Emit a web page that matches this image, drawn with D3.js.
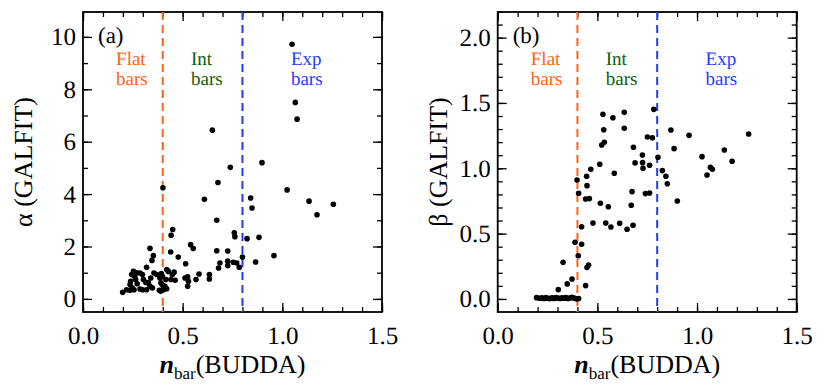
<!DOCTYPE html>
<html>
<head>
<meta charset="utf-8">
<script src="https://cdn.jsdelivr.net/npm/d3@7"></script>
<style>
  body { margin: 0; background: #fff; }
  svg text { text-rendering: geometricPrecision; }
</style>
</head>
<body>
<div id="chart"></div>
<script>
// panel (a): n_bar vs alpha
const nAlpha = [1.049,1.065,1.074,0.649,0.739,0.898,0.677,0.401,0.609,0.841,0.848,1.024,1.134,1.174,1.256,
  0.671,0.759,0.762,0.823,0.883,0.450,0.442,0.540,0.553,0.336,0.353,0.346,0.440,0.478,0.515,
  0.671,0.726,0.800,0.958,0.866,0.726,0.726,0.754,0.771,0.687,0.680,0.784,0.319,0.253,0.244,
  0.286,0.298,0.356,0.370,0.393,0.398,0.420,0.428,0.457,0.448,0.441,0.462,0.340,0.328,0.303,
  0.315,0.264,0.272,0.239,0.236,0.247,0.256,0.236,0.219,0.199,0.286,0.299,0.336,0.348,0.319,
  0.391,0.400,0.383,0.403,0.525,0.529,0.525,0.512,0.567,0.582,0.634,0.634,0.386,0.411,0.420,
  0.416,0.270,0.260,0.390];
const alphaVals = [9.72,7.50,6.86,6.44,5.02,5.20,4.44,4.24,3.80,3.85,3.47,4.16,3.73,3.21,3.61,
  3.00,2.52,2.37,2.30,2.35,2.65,2.43,2.07,1.92,1.93,1.65,1.47,1.79,1.60,1.34,
  1.84,1.83,1.60,1.65,1.41,1.44,1.27,1.40,1.37,1.37,1.18,1.21,1.21,1.05,0.93,
  0.99,0.93,0.99,0.93,0.97,0.86,1.12,1.05,1.02,0.93,0.74,0.71,0.80,0.61,0.74,
  0.63,0.74,0.58,0.67,0.55,0.42,0.35,0.33,0.35,0.25,0.38,0.35,0.48,0.42,0.35,
  0.61,0.52,0.33,0.35,0.84,0.67,0.48,0.80,0.74,0.95,0.93,0.76,0.80,0.48,0.39,
  0.74,1.00,0.85,0.29];

// panel (b): n_bar vs beta
const nBeta = [0.783,0.635,0.528,0.578,0.635,0.532,0.869,0.960,1.259,0.535,0.522,0.751,0.776,0.681,0.885,
  1.137,0.726,0.804,1.025,1.176,0.689,0.727,0.729,0.762,0.512,0.467,0.446,0.585,0.826,0.844,
  0.851,1.067,1.077,1.050,0.901,0.398,0.406,0.448,0.441,0.460,0.515,0.555,0.674,0.670,0.741,
  0.762,0.421,0.478,0.542,0.568,0.612,0.649,0.679,0.388,0.421,0.404,0.328,0.373,0.349,0.304,
  0.441,0.448,0.456,
  0.195,0.210,0.222,0.232,0.242,0.252,0.262,0.272,0.282,0.292,0.302,0.312,0.322,0.332,0.342,
  0.352,0.362,0.372,0.384,0.396,0.406,0.413];
const betaVals = [1.451,1.428,1.413,1.387,1.306,1.295,1.293,1.252,1.262,1.199,1.178,1.239,1.234,1.161,1.150,
  1.140,1.102,1.084,1.089,1.054,1.041,1.043,1.000,1.023,1.031,0.992,0.939,0.962,0.982,0.939,
  0.882,1.008,0.992,0.949,0.750,0.910,0.809,0.867,0.765,0.768,0.732,0.706,0.821,0.717,0.806,
  0.811,0.553,0.581,0.581,0.551,0.579,0.533,0.564,0.434,0.418,0.331,0.281,0.153,0.115,0.071,
  0.102,0.240,0.260,
  0.010,0.005,0.008,0.003,0.010,0.005,0.002,0.008,0.004,0.010,0.006,0.003,0.008,0.005,0.010,
  0.004,0.007,0.012,0.006,0.000,0.003];

const xMajor = [0, 0.5, 1.0, 1.5];
const xMinor = d3.range(0, 1.501, 0.1);
const alphaMajor = [0, 2, 4, 6, 8, 10];
const alphaMinor = d3.range(0, 11, 1);
const betaMajor = [0, 0.5, 1.0, 1.5, 2.0];
const betaMinor = d3.range(0, 2.201, 0.1);

const flatCut = 0.4, expCut = 0.8;
const orange = "#ff6316", green = "#0d5f0d", blue = "#1f3cff";
const serif = '"Liberation Serif", "Times New Roman", Times, serif';

const W = 830, H = 391;
const svg = d3.select("#chart").append("svg")
    .attr("width", W)
    .attr("height", H)
    .style("font-family", serif);

const yTop = 12, yBottom = 312;

function panel(opts) {
    const x = d3.scaleLinear().domain([0, 1.5]).range([opts.left, opts.right]);
    const y = d3.scaleLinear().domain(opts.yDomain).range([yBottom, yTop]);
    const g = svg.append("g");

    function axes(gen, tr, vals, size, fmt, pad) {
        const a = g.append("g")
            .attr("transform", tr)
            .call(gen.tickValues(vals).tickSize(size).tickPadding(pad).tickFormat(fmt));
        a.attr("font-family", null);
        a.select(".domain").remove();
        a.selectAll("line").attr("stroke", "#000").attr("stroke-width", 1.3);
        a.selectAll("text").attr("fill", "#000")
            .style("font-family", serif).style("font-size", "25px");
        return a;
    }
    // bottom / top
    axes(d3.axisBottom(x), `translate(0,${yBottom})`, xMajor, -9, d3.format(".1f"), 14);
    axes(d3.axisBottom(x), `translate(0,${yBottom})`, xMinor, -5, () => "", 14);
    axes(d3.axisTop(x), `translate(0,${yTop})`, xMajor, -9, () => "", 0);
    axes(d3.axisTop(x), `translate(0,${yTop})`, xMinor, -5, () => "", 0);
    // left / right
    axes(d3.axisLeft(y), `translate(${opts.left},0)`, opts.yMajor, -9, opts.yFmt, 7);
    axes(d3.axisLeft(y), `translate(${opts.left},0)`, opts.yMinor, -5, () => "", 7);
    axes(d3.axisRight(y), `translate(${opts.right},0)`, opts.yMajor, -9, () => "", 0);
    axes(d3.axisRight(y), `translate(${opts.right},0)`, opts.yMinor, -5, () => "", 0);

    g.append("rect")
        .attr("x", opts.left).attr("y", yTop)
        .attr("width", opts.right - opts.left).attr("height", yBottom - yTop)
        .attr("fill", "none").attr("stroke", "#000").attr("stroke-width", 1.8);

    // cut lines
    [[flatCut, orange], [expCut, blue]].forEach(([v, c]) => {
        g.append("line")
            .attr("x1", x(v)).attr("x2", x(v))
            .attr("y1", yTop).attr("y2", yBottom)
            .attr("stroke", c).attr("stroke-width", 2)
            .attr("stroke-dasharray", "8,5");
    });

    // points
    g.selectAll("circle.pt")
        .data(d3.zip(opts.xs, opts.ys))
        .join("circle")
        .attr("class", "pt")
        .attr("cx", d => x(d[0]))
        .attr("cy", d => y(d[1]))
        .attr("r", 2.8)
        .attr("fill", "#000");

    // panel label
    g.append("text")
        .attr("x", opts.left + 15).attr("y", 43)
        .style("font-family", serif)
        .style("font-size", "23px")
        .text(opts.tag);

    // region labels
    const regions = [["Flat", 0.166, orange], ["Int", 0.542, green], ["Exp", 1.043, blue]];
    regions.forEach(([name, xv, c]) => {
        const t = g.append("text")
            .attr("x", x(xv)).attr("y", 65)
            .attr("fill", c)
            .style("font-family", serif)
            .style("font-size", "19px");
        t.append("tspan").attr("x", x(xv)).text(name);
        t.append("tspan").attr("x", x(xv)).attr("dy", 20).text("bars");
    });

    // y title
    g.append("text")
        .attr("transform", `translate(${opts.left - 51},${(yTop + yBottom) / 2}) rotate(-90)`)
        .attr("text-anchor", "middle")
        .style("font-family", serif)
        .style("font-size", "26px")
        .text(opts.yTitle);

    // x title
    const xt = g.append("text")
        .attr("x", (opts.left + opts.right) / 2)
        .attr("y", 373)
        .attr("text-anchor", "middle")
        .style("font-family", serif)
        .style("font-size", "26px");
    xt.append("tspan").style("font-weight", "bold").style("font-style", "italic").text("n");
    xt.append("tspan").attr("dy", 6).style("font-size", "17px").text("bar");
    xt.append("tspan").attr("dy", -6).text("(BUDDA)");
}

panel({
    left: 83, right: 382,
    yDomain: [-0.5, 10.95],
    yMajor: alphaMajor, yMinor: alphaMinor, yFmt: d3.format("d"),
    xs: nAlpha, ys: alphaVals,
    tag: "(a)", yTitle: "\u03b1 (GALFIT)"
});

panel({
    left: 497.7, right: 796.7,
    yDomain: [-0.1, 2.196],
    yMajor: betaMajor, yMinor: betaMinor, yFmt: d3.format(".1f"),
    xs: nBeta, ys: betaVals,
    tag: "(b)", yTitle: "\u03b2 (GALFIT)"
});
</script>
</body>
</html>
